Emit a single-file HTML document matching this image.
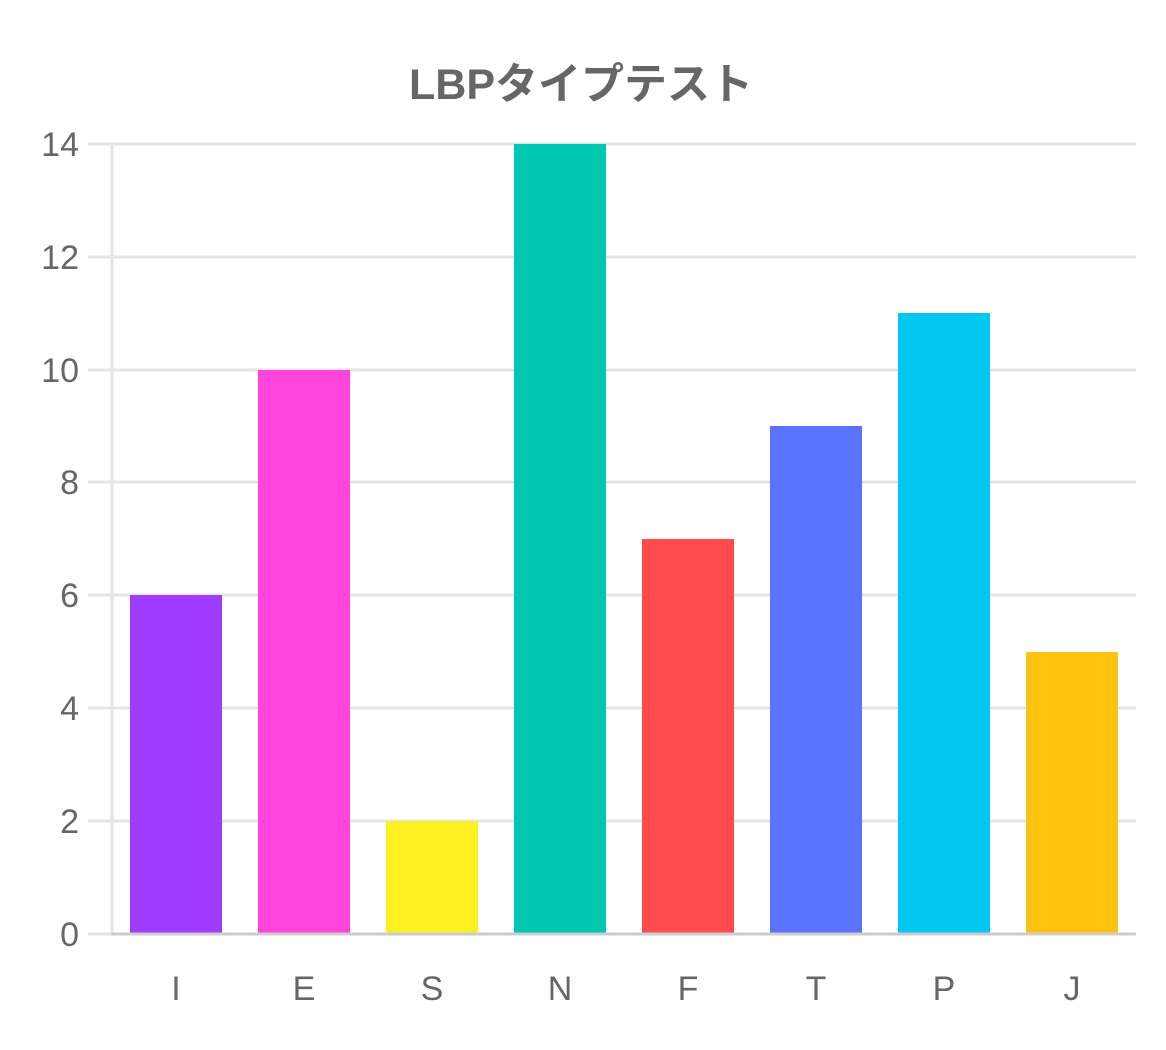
<!DOCTYPE html>
<html><head><meta charset="utf-8"><style>
html,body{margin:0;padding:0;background:#fff;width:1166px;height:1050px;overflow:hidden}
</style></head><body>
<svg width="1166" height="1050" xmlns="http://www.w3.org/2000/svg" font-family="Liberation Sans, 'Noto Sans CJK JP', sans-serif">
<text x="581" y="99" text-anchor="middle" font-size="43" font-weight="bold" fill="#666">LBPタイプテスト</text>
<g stroke="#e5e5e5" stroke-width="3">
<line x1="88" y1="144" x2="1136" y2="144"/>
<line x1="88" y1="257" x2="1136" y2="257"/>
<line x1="88" y1="370" x2="1136" y2="370"/>
<line x1="88" y1="482" x2="1136" y2="482"/>
<line x1="88" y1="595" x2="1136" y2="595"/>
<line x1="88" y1="708" x2="1136" y2="708"/>
<line x1="88" y1="821" x2="1136" y2="821"/>
<line x1="88" y1="934" x2="112" y2="934"/>
<line x1="112" y1="144" x2="112" y2="934"/>
</g>
<g font-size="34" fill="#666" text-anchor="end">
<text x="79" y="156">14</text>
<text x="79" y="269">12</text>
<text x="79" y="382">10</text>
<text x="79" y="494">8</text>
<text x="79" y="607">6</text>
<text x="79" y="720">4</text>
<text x="79" y="833">2</text>
<text x="79" y="946">0</text>
</g>
<rect x="130" y="595" width="92" height="339" fill="#a03cff"/>
<rect x="258" y="370" width="92" height="564" fill="#ff45dc"/>
<rect x="386" y="821" width="92" height="113" fill="#fff023"/>
<rect x="514" y="144" width="92" height="790" fill="#00c8b0"/>
<rect x="642" y="539" width="92" height="395" fill="#ff4b4b"/>
<rect x="770" y="426" width="92" height="508" fill="#5a73ff"/>
<rect x="898" y="313" width="92" height="621" fill="#00c8f0"/>
<rect x="1026" y="652" width="92" height="282" fill="#ffc30f"/>
<line x1="111" y1="934" x2="1136" y2="934" stroke="#ccc" stroke-width="3"/>
<g font-size="34" fill="#666" text-anchor="middle">
<text x="176" y="1000">I</text>
<text x="304" y="1000">E</text>
<text x="432" y="1000">S</text>
<text x="560" y="1000">N</text>
<text x="688" y="1000">F</text>
<text x="816" y="1000">T</text>
<text x="944" y="1000">P</text>
<text x="1072" y="1000">J</text>
</g>
</svg>
</body></html>
